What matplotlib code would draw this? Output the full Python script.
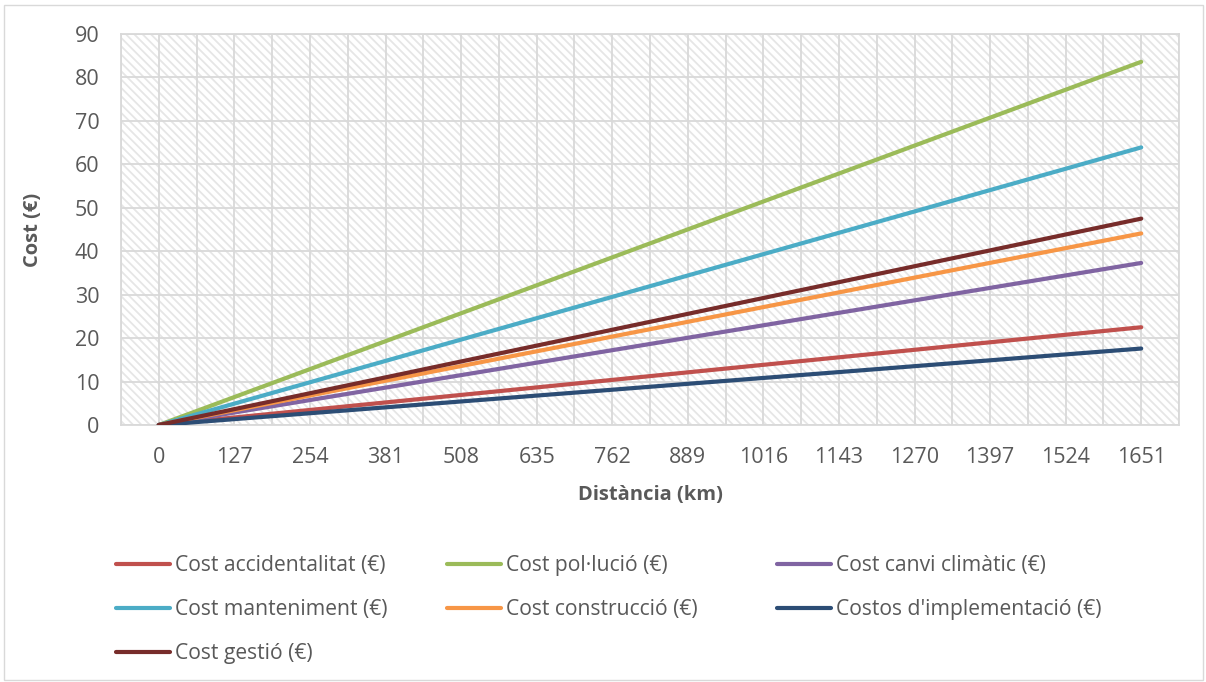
import matplotlib
matplotlib.use("Agg")
import matplotlib.pyplot as plt
from matplotlib.patches import Rectangle
import numpy as np

# Distance categories (km)
distances = [0, 127, 254, 381, 508, 635, 762, 889, 1016, 1143, 1270, 1397, 1524, 1651]

# Cost per distance for each concept (€)
cost_accidentalitat = [0, 1.73, 3.46, 5.19, 6.92, 8.65, 10.38, 12.12, 13.85, 15.58, 17.31, 19.04, 20.77, 22.50]
cost_pollucio = [0, 6.43, 12.86, 19.29, 25.72, 32.15, 38.58, 45.02, 51.45, 57.88, 64.31, 70.74, 77.17, 83.60]
cost_canvi_climatic = [0, 2.87, 5.74, 8.61, 11.48, 14.35, 17.22, 20.08, 22.95, 25.82, 28.69, 31.56, 34.43, 37.30]
cost_manteniment = [0, 4.92, 9.83, 14.75, 19.66, 24.58, 29.49, 34.41, 39.32, 44.24, 49.15, 54.07, 58.98, 63.90]
cost_construccio = [0, 3.39, 6.78, 10.18, 13.57, 16.96, 20.35, 23.75, 27.14, 30.53, 33.92, 37.32, 40.71, 44.10]
costos_implementacio = [0, 1.35, 2.71, 4.06, 5.42, 6.77, 8.12, 9.48, 10.83, 12.18, 13.54, 14.89, 16.25, 17.60]
cost_gestio = [0, 3.65, 7.31, 10.96, 14.62, 18.27, 21.92, 25.58, 29.23, 32.88, 36.54, 40.19, 43.85, 47.50]

series = [
    ("Cost accidentalitat (€)", cost_accidentalitat, "#C0504D"),
    ("Cost pol·lució (€)", cost_pollucio, "#9BBB59"),
    ("Cost canvi climàtic (€)", cost_canvi_climatic, "#8064A2"),
    ("Cost manteniment (€)", cost_manteniment, "#4BACC6"),
    ("Cost construcció (€)", cost_construccio, "#F79646"),
    ("Costos d'implementació (€)", costos_implementacio, "#2C4D75"),
    ("Cost gestió (€)", cost_gestio, "#772C2A"),
]

y_ticks = list(range(0, 91, 10))

TEXT = "#595959"
GRID = "#d9d9d9"
plt.rcParams["font.family"] = ["Open Sans", "DejaVu Sans"]
plt.rcParams["hatch.linewidth"] = 1.3

fig = plt.figure(figsize=(12.06, 6.82), dpi=100)
fig.patch.set_facecolor("white")

# outer chart border
fig.patches.append(Rectangle((4 / 1206, 2 / 682), 1199 / 1206, 675 / 682,
                             transform=fig.transFigure, fill=False,
                             edgecolor=GRID, linewidth=1.0))

ax = fig.add_axes([121 / 1206, 257 / 682, 1058 / 1206, 391 / 682])
ax.set_facecolor("white")

# diagonal pattern fill of the plot area
ax.add_patch(Rectangle((0, 0), 1, 1, transform=ax.transAxes, facecolor="white",
                       edgecolor="#e6e6e6", hatch="\\\\\\\\", linewidth=0, zorder=0.1))

x = np.arange(len(distances))
lines = []
for label, vals, color in series:
    (ln,) = ax.plot(x, vals, color=color, linewidth=3.0, label=label,
                    solid_capstyle="round", zorder=3)
    lines.append(ln)

ax.set_xlim(-0.5, len(distances) - 0.5)
ax.set_ylim(0, 90)
ax.set_xticks(x)
ax.set_xticklabels([str(d) for d in distances])
ax.set_xticks(np.arange(-0.5, len(distances), 1.0), minor=True)
ax.set_yticks(y_ticks)

ax.set_axisbelow(True)
ax.grid(True, which="both", axis="x", color=GRID, linewidth=1.3)
ax.grid(True, which="major", axis="y", color=GRID, linewidth=1.3)
for sp in ax.spines.values():
    sp.set_color(GRID)
    sp.set_linewidth(1.3)

ax.tick_params(axis="both", which="both", length=0, labelsize=15.5, labelcolor=TEXT)
ax.tick_params(axis="x", pad=16)
ax.tick_params(axis="y", pad=15.5)

ax.set_xlabel("Distància (km)", fontsize=14.5, fontweight="bold", color=TEXT, labelpad=12)
ax.set_ylabel("Cost (€)", fontsize=14.5, fontweight="bold", color=TEXT, labelpad=23)

# legend laid out in three equal-width columns
col_x = [116 / 1206, 447 / 1206, 777 / 1206]
for j in range(3):
    hs = lines[j::3]
    fig.legend(handles=hs, labels=[h.get_label() for h in hs],
               loc="upper left", bbox_to_anchor=(col_x[j], 1 - 555 / 682),
               frameon=False, fontsize=15.2, labelcolor=TEXT,
               handlelength=2.56, handletextpad=0.24, labelspacing=1.1,
               borderpad=0, borderaxespad=0)

fig.savefig("out.png", dpi=100)
